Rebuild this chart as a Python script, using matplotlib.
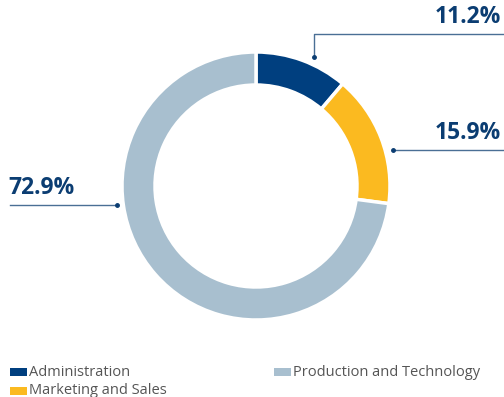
import matplotlib.pyplot as plt

# staff split by department
departments = ['Administration', 'Marketing and Sales', 'Production and Technology']
shares = [11.2, 15.9, 72.9]
colors = ['#003f7f', '#fbba20', '#a8bfcf']

W, H = 504, 397
fig = plt.figure(figsize=(W / 100, H / 100), dpi=100)
ax = fig.add_axes([0, 0, 1, 1])

def py(y):
    # pixel rows are measured from the top
    return H - y

ax.pie(shares, colors=colors, startangle=90, counterclock=False,
       center=(256, py(186)), radius=134, frame=True,
       wedgeprops=dict(width=33, edgecolor='white', linewidth=2.5))
ax.set_xlim(0, W)
ax.set_ylim(0, H)
ax.axis('off')

navy = '#0b3d72'
line_c = '#4a6f95'
lab = dict(color=navy, fontsize=16.5, fontweight='bold', family='Open Sans')

# 11.2% leader
ax.plot([314, 314, W], [py(57), py(34), py(34)], color=line_c, lw=1)
ax.plot(314, py(57), 'o', color=navy, ms=2.5)
ax.text(501, py(29), f'{shares[0]}%', ha='right', va='bottom', **lab)

# 15.9% leader
ax.plot([393, W], [py(150), py(150)], color=line_c, lw=1)
ax.plot(393, py(150), 'o', color=navy, ms=2.5)
ax.text(501, py(145), f'{shares[1]}%', ha='right', va='bottom', **lab)

# 72.9% leader
ax.plot([10, 117], [py(205), py(205)], color=line_c, lw=1)
ax.plot(117, py(205), 'o', color=navy, ms=2.5)
ax.text(8, py(200), f'{shares[2]}%', ha='left', va='bottom', **lab)

# legend
legend_pos = [(10, 372), (10, 391), (274, 372)]
for (x, y), name, c in zip(legend_pos, departments, colors):
    ax.add_patch(plt.Rectangle((x, py(y) - 4), 17, 8, color=c, lw=0))
    ax.text(x + 19, py(y), name, ha='left', va='center', fontsize=10.5,
            color='#555555', family='Open Sans')

fig.savefig('out.png', dpi=100)
